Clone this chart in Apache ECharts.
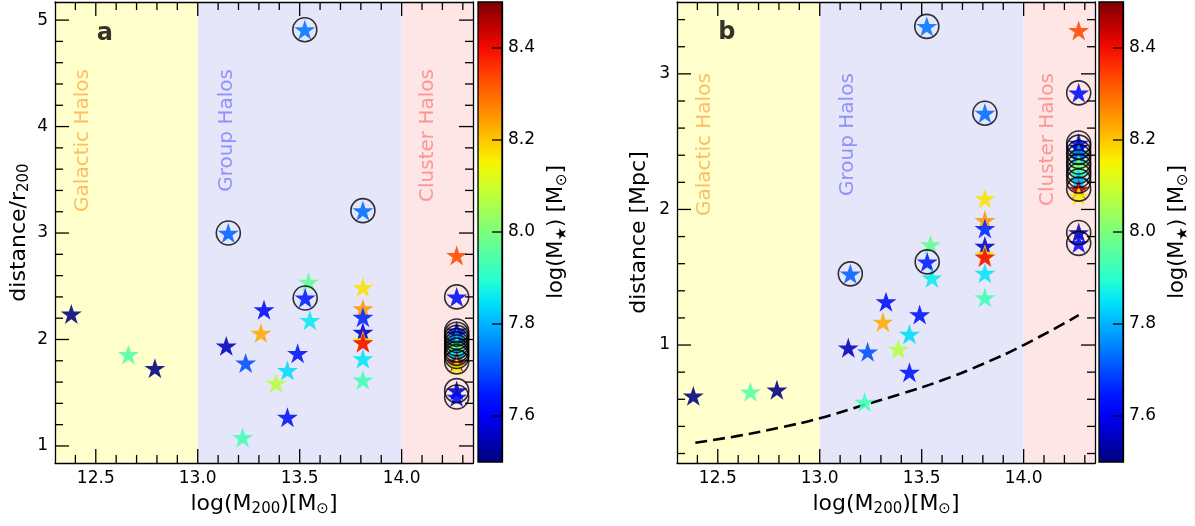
<!DOCTYPE html>
<html>
<head>
<meta charset="utf-8">
<script src="https://cdn.jsdelivr.net/npm/echarts@6/dist/echarts.min.js"></script>
<style>
  html, body { margin: 0; padding: 0; background: #fff; }
  #chart { width: 1195px; height: 526px; }
</style>
</head>
<body>
<div id="chart"></div>
<script>
// Satellite galaxies: halo mass, distance to host (in r200 and in Mpc), stellar mass
const logM200 = [12.38, 12.66, 12.79, 13.15, 13.14, 13.235, 13.22, 13.325, 13.31, 13.385,
                 13.44, 13.44, 13.49, 13.525, 13.543, 13.527, 13.55, 13.81, 13.81, 13.81,
                 13.81, 13.81, 13.81, 13.81, 13.81, 13.81, 14.27, 14.27, 14.27, 14.27,
                 14.27, 14.27, 14.27, 14.27, 14.27, 14.27, 14.27, 14.27, 14.27, 14.27, 14.27];
const distR200 = [2.24, 1.86, 1.73, 3.00, 1.94, 1.78, 1.08, 2.28, 2.06, 1.59,
                  1.71, 1.27, 1.87, 4.91, 2.54, 2.39, 2.18, 3.21, 2.49, 2.29,
                  2.21, 2.07, 1.99, 1.97, 1.82, 1.62, 2.79, 2.40, 2.08, 2.05,
                  2.02, 1.99, 1.96, 1.93, 1.90, 1.87, 1.84, 1.79, 1.75, 1.52, 1.46];
const distMpc = [0.625, 0.655, 0.67, 1.525, 0.98, 0.95, 0.58, 1.32, 1.17, 0.97,
                 1.08, 0.80, 1.225, 3.35, 1.74, 1.613, 1.495, 2.71, 2.08, 1.92,
                 1.86, 1.73, 1.67, 1.65, 1.53, 1.35, 3.32, 2.86, 2.49, 2.46,
                 2.42, 2.39, 2.35, 2.32, 2.28, 2.25, 2.21, 2.15, 2.10, 1.83, 1.75];
const logMstar = [7.50, 7.95, 7.50, 7.72, 7.55, 7.70, 7.93, 7.62, 8.23, 8.07,
                  7.84, 7.63, 7.63, 7.74, 7.97, 7.65, 7.86, 7.73, 8.17, 8.25,
                  7.66, 7.56, 8.16, 8.40, 7.85, 7.93, 8.33, 7.62, 7.64, 7.58,
                  7.78, 7.72, 7.84, 8.06, 7.97, 7.88, 7.80, 8.46, 8.16, 7.55, 7.62];
const circled = [0, 0, 0, 1, 0, 0, 0, 0, 0, 0,
                 0, 0, 0, 1, 0, 1, 0, 1, 0, 0,
                 0, 0, 0, 0, 0, 0, 0, 1, 1, 1,
                 1, 1, 1, 1, 1, 1, 1, 1, 0, 1, 1];

// r200 of the host halo as a function of halo mass (dashed curve, panel b)
const r200CurveX = [12.39, 12.6, 12.8, 13.0, 13.2, 13.4, 13.6, 13.8, 14.0, 14.27];
const r200CurveY = [0.28, 0.33, 0.39, 0.46, 0.55, 0.64, 0.74, 0.86, 1.0, 1.22];

// Halo-mass regimes
const haloBounds = [12.3, 13.0, 14.0, 14.35];
const haloNames = ['Galactic Halos', 'Group Halos', 'Cluster Halos'];

// Axis ranges and ticks
const xRange = [12.3, 14.35];
const xMajorTicks = [12.5, 13.0, 13.5, 14.0];
const xMinorTicks = [12.4, 12.6, 12.7, 12.8, 12.9, 13.1, 13.2, 13.3, 13.4, 13.6, 13.7, 13.8, 13.9, 14.1, 14.2, 14.3];
const yRangeA = [0.84, 5.17];
const yMajorTicksA = [1, 2, 3, 4, 5];
const yMinorTicksA = [1.2, 1.4, 1.6, 1.8, 2.2, 2.4, 2.6, 2.8, 3.2, 3.4, 3.6, 3.8, 4.2, 4.4, 4.6, 4.8];
const yRangeB = [0.13, 3.53];
const yMajorTicksB = [1, 2, 3];
const yMinorTicksB = [0.2, 0.4, 0.6, 0.8, 1.2, 1.4, 1.6, 1.8, 2.2, 2.4, 2.6, 2.8, 3.2, 3.4];
const cbarRange = [7.5, 8.5];
const cbarTicks = [7.6, 7.8, 8.0, 8.2, 8.4];

// jet colormap sampled at 21 even steps
const jet = ['#000080', '#0000b9', '#0000f4', '#001aff', '#004dff', '#0080ff', '#00b3ff',
             '#00e6f7', '#29ffce', '#52ffa4', '#7bff7b', '#a4ff52', '#ceff29', '#f7f500',
             '#ffc600', '#ff9700', '#ff6800', '#ff3900', '#f40900', '#b90000', '#800000'];

const FONT = 'DejaVu Sans';
const LINE = { color: '#000', width: 1.3 };
const TICK_MAJOR = 14, TICK_MINOR = 8, TICK_CBAR = 10;
const STAR = 'path://M0,-100 L22.45,-30.9 L95.11,-30.9 L36.33,11.8 L58.78,80.9 L0,38.2 L-58.78,80.9 L-36.33,11.8 L-95.11,-30.9 L-22.45,-30.9 Z';
const SUB = { fontSize: 15, fontFamily: FONT, color: '#000', padding: [11, 0, 0, 0] };

// Frame + labels; ticks are drawn by tickSeries on all four sides, pointing inward
function axisSet(dim, gridIndex, range, major, fmt, nameOpts) {
  const sides = dim === 'x' ? ['bottom', 'top'] : ['left', 'right'];
  return sides.map(function (pos, si) {
    const ax = {
      type: 'value', gridIndex: gridIndex, min: range[0], max: range[1], position: pos, z: 10,
      axisLine: { show: true, onZero: false, lineStyle: LINE },
      axisTick: { show: false },
      axisLabel: si === 0
        ? { show: true, customValues: major, formatter: fmt, fontFamily: FONT, fontSize: 17, color: '#000', margin: 7 }
        : { show: false },
      splitLine: { show: false }
    };
    if (si === 0) Object.assign(ax, nameOpts);
    return ax;
  });
}

const xName = {
  name: 'log(M{sub|200})[M{sub|⊙}]', nameLocation: 'middle', nameGap: 28,
  nameTextStyle: { fontFamily: FONT, fontSize: 22, color: '#000', rich: { sub: SUB } }
};
function yName(text, gap) {
  return {
    name: text, nameLocation: 'middle', nameGap: gap, nameRotate: 90,
    nameTextStyle: { fontFamily: FONT, fontSize: 22, color: '#000', rich: { sub: SUB } }
  };
}
function cbarAxis(gridIndex) {
  return {
    type: 'value', gridIndex: gridIndex, min: cbarRange[0], max: cbarRange[1], position: 'right', z: 10,
    axisLine: { show: true, onZero: false, lineStyle: LINE },
    axisTick: { show: false },
    axisLabel: { show: true, customValues: cbarTicks, formatter: function (v) { return v.toFixed(1); },
                 fontFamily: FONT, fontSize: 17, color: '#000', margin: 6 },
    splitLine: { show: false },
    name: 'log(M{sub|★}) [M{sub|⊙}]', nameLocation: 'middle', nameGap: 42, nameRotate: 90,
    nameTextStyle: { fontFamily: FONT, fontSize: 21, color: '#000', rich: { sub: SUB } }
  };
}
function cbarX(gridIndex) {
  return { type: 'value', gridIndex: gridIndex, min: 0, max: 1, show: false };
}

const fmt1 = function (v) { return v.toFixed(1); };
const fmt0 = function (v) { return String(Math.round(v)); };

// axis indices: panel a -> 0 (bottom) / 1 (top), colorbar a -> 2, panel b -> 3 / 4, colorbar b -> 5
const xAxis = [].concat(
  axisSet('x', 0, xRange, xMajorTicks, fmt1, xName),
  [cbarX(1)],
  axisSet('x', 2, xRange, xMajorTicks, fmt1, xName),
  [cbarX(3)]
);
const yAxis = [].concat(
  axisSet('y', 0, yRangeA, yMajorTicksA, fmt0, yName('distance/r{sub|200}', 23)),
  [cbarAxis(1)],
  axisSet('y', 2, yRangeB, yMajorTicksB, fmt0, yName('distance [Mpc]', 27)),
  [cbarAxis(3)]
);

const regionFill = ['#ffffcc', '#e6e6fa', '#ffe6e6'];
const regionText = ['#ffad48', '#7b7bff', '#ff8080'];

function regionSeries(ax) {
  return {
    type: 'scatter', xAxisIndex: ax, yAxisIndex: ax, data: [], silent: true, z: 0,
    markArea: {
      silent: true,
      data: haloNames.map(function (n, i) {
        return [{ xAxis: haloBounds[i], itemStyle: { color: regionFill[i], opacity: 1 } }, { xAxis: haloBounds[i + 1] }];
      })
    }
  };
}

// Inward ticks on all four sides of a panel, placed through the panel's own scales
function tickSeries(ax, yRange, xMaj, xMin, yMaj, yMin) {
  const data = [];
  xMaj.forEach(function (v) { data.push([v, 0]); });
  xMin.forEach(function (v) { data.push([v, 1]); });
  yMaj.forEach(function (v) { data.push([v, 2]); });
  yMin.forEach(function (v) { data.push([v, 3]); });
  return {
    type: 'custom', xAxisIndex: ax, yAxisIndex: ax, silent: true, z: 8, clip: false,
    encode: { x: -1, y: -1 },
    data: data,
    renderItem: function (params, api) {
      const v = api.value(0), kind = api.value(1);
      const len = (kind === 0 || kind === 2) ? TICK_MAJOR : TICK_MINOR;
      const style = { stroke: '#000', lineWidth: LINE.width };
      let a, b, s1, s2;
      if (kind < 2) {
        a = api.coord([v, yRange[0]]); b = api.coord([v, yRange[1]]);
        s1 = { x1: a[0], y1: a[1], x2: a[0], y2: a[1] - len };
        s2 = { x1: b[0], y1: b[1], x2: b[0], y2: b[1] + len };
      } else {
        a = api.coord([xRange[0], v]); b = api.coord([xRange[1], v]);
        s1 = { x1: a[0], y1: a[1], x2: a[0] + len, y2: a[1] };
        s2 = { x1: b[0], y1: b[1], x2: b[0] - len, y2: b[1] };
      }
      return { type: 'group', children: [
        { type: 'line', shape: s1, style: style },
        { type: 'line', shape: s2, style: style }
      ] };
    }
  };
}

function starSeries(ax, ys) {
  return {
    type: 'scatter', xAxisIndex: ax, yAxisIndex: ax, z: 3, silent: true,
    symbol: STAR, symbolSize: 21, symbolKeepAspect: true,
    itemStyle: { opacity: 0.88 },
    data: logM200.map(function (x, i) { return [x, ys[i], logMstar[i]]; })
  };
}

function circleSeries(ax, ys) {
  const pts = [];
  logM200.forEach(function (x, i) { if (circled[i]) pts.push([x, ys[i]]); });
  return {
    type: 'scatter', xAxisIndex: ax, yAxisIndex: ax, z: 4, silent: true,
    symbol: 'circle', symbolSize: 24,
    itemStyle: { color: 'rgba(0,0,0,0)', borderColor: '#000', borderWidth: 1.6 },
    data: pts
  };
}

function labelSeries(ax, xs, yTop, letterPos) {
  const data = haloNames.map(function (n, i) {
    return { name: n, value: [xs[i], yTop], label: { color: regionText[i] } };
  });
  data.push({
    name: letterPos[2], value: [letterPos[0], letterPos[1]],
    label: { rotate: 0, align: 'center', verticalAlign: 'middle', color: '#000', fontWeight: 'bold', fontSize: 24 }
  });
  return {
    type: 'scatter', xAxisIndex: ax, yAxisIndex: ax, z: 5, silent: true,
    symbolSize: 1, itemStyle: { color: 'rgba(0,0,0,0)' },
    label: {
      show: true, position: 'inside', formatter: '{b}', rotate: 90, align: 'right', verticalAlign: 'middle',
      fontFamily: FONT, fontSize: 20
    },
    data: data
  };
}

function colorbarSeries(ax) {
  return {
    type: 'custom', xAxisIndex: ax, yAxisIndex: ax, silent: true, z: 2, clip: false,
    data: [[0.5, cbarRange[0], cbarRange[1]]],
    renderItem: function (params, api) {
      const tl = api.coord([0, api.value(2)]);
      const br = api.coord([1, api.value(1)]);
      const children = [{
        type: 'rect',
        shape: { x: tl[0], y: tl[1], width: br[0] - tl[0], height: br[1] - tl[1] },
        style: {
          fill: new echarts.graphic.LinearGradient(0, 1, 0, 0,
            jet.map(function (c, i) { return { offset: i / (jet.length - 1), color: c }; })),
          stroke: '#000', lineWidth: LINE.width
        }
      }];
      cbarTicks.forEach(function (t) {
        const p = api.coord([1, t]);
        children.push({ type: 'line', shape: { x1: p[0], y1: p[1], x2: p[0] - TICK_CBAR, y2: p[1] },
                        style: { stroke: '#000', lineWidth: LINE.width } });
      });
      return { type: 'group', children: children };
    }
  };
}

const series = [
  regionSeries(0),
  starSeries(0, distR200),                                                  // index 1
  circleSeries(0, distR200),
  labelSeries(0, [12.434, 13.143, 14.128], 4.54, [12.544, 4.87, 'a']),
  tickSeries(0, yRangeA, xMajorTicks, xMinorTicks, yMajorTicksA, yMinorTicksA),
  colorbarSeries(2),
  regionSeries(3),
  {
    type: 'line', xAxisIndex: 3, yAxisIndex: 3, z: 2, silent: true,
    smooth: true, showSymbol: false, symbol: 'none',
    lineStyle: { color: '#000', width: 2.6, type: [12, 6] },
    data: r200CurveX.map(function (x, i) { return [x, r200CurveY[i]]; })
  },
  starSeries(3, distMpc),                                                   // index 8
  circleSeries(3, distMpc),
  labelSeries(3, [12.436, 13.137, 14.118], 3.005, [12.544, 3.30, 'b']),
  tickSeries(3, yRangeB, xMajorTicks, xMinorTicks, yMajorTicksB, yMinorTicksB),
  colorbarSeries(5)
];

const chart = echarts.init(document.getElementById('chart'), null, { renderer: 'canvas' });
chart.setOption({
  animation: false,
  backgroundColor: '#fff',
  textStyle: { fontFamily: FONT },
  grid: [
    { left: 55, top: 2, width: 418, height: 461 },
    { left: 478, top: 2, width: 24, height: 460 },
    { left: 677, top: 2, width: 418, height: 461 },
    { left: 1099, top: 2, width: 24, height: 460 }
  ],
  xAxis: xAxis,
  yAxis: yAxis,
  visualMap: [{
    type: 'continuous', show: false, min: cbarRange[0], max: cbarRange[1],
    dimension: 2, seriesIndex: [1, 8], inRange: { color: jet }
  }],
  series: series
});
</script>
</body>
</html>
